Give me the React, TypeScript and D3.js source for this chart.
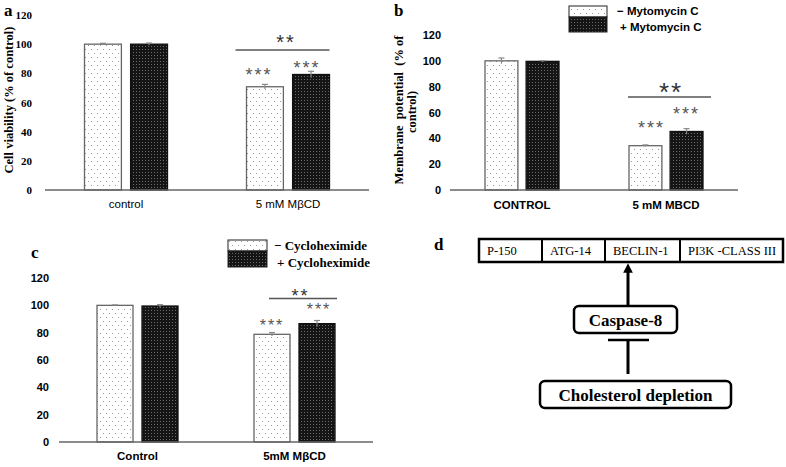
import { useEffect, useRef } from "react";
import * as d3 from "d3";

const yTicks = [0, 20, 40, 60, 80, 100, 120];
const seriesKeys = ["minus", "plus"];

// panel a
const groupsA = ["control", "5 mM MβCD"];
const minusA = [100, 70.8];
const plusA = [100, 79.2];
const minusErrA = [0.6, 1.6];
const plusErrA = [0.8, 2.2];

// panel b
const groupsB = ["CONTROL", "5 mM MBCD"];
const minusB = [100, 34.3];
const plusB = [99.6, 45.3];
const minusErrB = [2.2, 0.6];
const plusErrB = [0.5, 2.2];
const legendB = ["− Mytomycin C", "+ Mytomycin C"];

// panel c
const groupsC = ["Control", "5mM MβCD"];
const minusC = [100, 78.8];
const plusC = [99.5, 86.6];
const minusErrC = [0.3, 1.3];
const plusErrC = [1.0, 2.3];
const legendC = ["− Cycloheximide", "+ Cycloheximide"];

// panel d
const complexParts = ["P-150", "ATG-14", "BECLIN-1", "PI3K -CLASS III"];
const complexEdges = [479, 542, 605, 680, 785];

const SERIF = "'Liberation Serif', 'Times New Roman', serif";
const SANS = "'Liberation Sans', Arial, sans-serif";

type PanelOpts = {
  groups: string[];
  minus: number[];
  plus: number[];
  minusErr: number[];
  plusErr: number[];
  xRange: [number, number];
  yRange: [number, number];
  groupW: number;
  tickX: number;
  tickFont: string;
  catFont: string;
  catWeight: string;
  catY: number;
  sig: {
    x0: number; x1: number; lineV: number; big: number; bigDy: number; bigSize: number;
    stars: [number, number][]; starSize: number;
  };
};

function drawPanel(svg: d3.Selection<SVGSVGElement, unknown, null, undefined>, o: PanelOpts) {
  const g = svg.append("g");
  const x0 = d3.scalePoint().domain(o.groups).range(o.xRange).padding(0.5);
  const x1 = d3
    .scaleBand()
    .domain(seriesKeys)
    .range([-o.groupW / 2, o.groupW / 2])
    .paddingInner(0.2);
  const y = d3.scaleLinear().domain([0, 120]).range(o.yRange);

  // tick labels (no axis line)
  g.selectAll(".ytick")
    .data(yTicks)
    .join("text")
    .attr("x", o.tickX)
    .attr("y", (d) => y(d) + 4)
    .attr("text-anchor", "end")
    .style("font-family", o.tickFont)
    .style("font-weight", "bold")
    .style("font-size", "11px")
    .text((d) => d);

  const rows = o.groups.flatMap((grp, i) => [
    { grp, key: "minus", v: o.minus[i], e: o.minusErr[i] },
    { grp, key: "plus", v: o.plus[i], e: o.plusErr[i] },
  ]);

  const bx = (d: any) => (x0(d.grp) || 0) + (x1(d.key) || 0);

  g.selectAll(".bar")
    .data(rows)
    .join("rect")
    .attr("x", bx)
    .attr("y", (d) => y(d.v))
    .attr("width", x1.bandwidth())
    .attr("height", (d) => y(0) - y(d.v))
    .attr("fill", (d) => (d.key === "minus" ? "url(#dots)" : "url(#checks)"))
    .attr("stroke", (d) => (d.key === "minus" ? "#666" : "#111"))
    .attr("stroke-width", 1.3);

  // error bars
  const eb = g.selectAll(".err").data(rows).join("g").attr("stroke", "#888").attr("stroke-width", 1.2);
  eb.append("line")
    .attr("x1", (d) => bx(d) + x1.bandwidth() / 2)
    .attr("x2", (d) => bx(d) + x1.bandwidth() / 2)
    .attr("y1", (d) => y(d.v + d.e))
    .attr("y2", (d) => y(d.v - d.e));
  eb.append("line")
    .attr("x1", (d) => bx(d) + x1.bandwidth() / 2 - 3)
    .attr("x2", (d) => bx(d) + x1.bandwidth() / 2 + 3)
    .attr("y1", (d) => y(d.v + d.e))
    .attr("y2", (d) => y(d.v + d.e));

  // baseline
  g.append("line")
    .attr("x1", o.xRange[0])
    .attr("x2", o.xRange[1])
    .attr("y1", y(0))
    .attr("y2", y(0))
    .attr("stroke", "#666")
    .attr("stroke-width", 1.5);

  // category labels
  g.selectAll(".cat")
    .data(o.groups)
    .join("text")
    .attr("x", (d) => x0(d) || 0)
    .attr("y", o.catY)
    .attr("text-anchor", "middle")
    .style("font-family", o.catFont)
    .style("font-weight", o.catWeight)
    .style("font-size", "11.5px")
    .text((d) => d);

  // significance
  const last = o.groups[o.groups.length - 1];
  const minusX = (x0(last) || 0) + (x1("minus") || 0);
  const plusX = (x0(last) || 0) + (x1("plus") || 0) + x1.bandwidth();
  g.append("line")
    .attr("x1", minusX + o.sig.x0)
    .attr("x2", plusX + o.sig.x1)
    .attr("y1", y(o.sig.lineV))
    .attr("y2", y(o.sig.lineV))
    .attr("stroke", "#555")
    .attr("stroke-width", 1.5);
  g.append("text")
    .attr("x", (minusX + plusX) / 2 + o.sig.big)
    .attr("y", y(o.sig.lineV) + o.sig.bigDy)
    .attr("text-anchor", "middle")
    .style("font-family", SANS)
    .style("font-size", `${o.sig.bigSize}px`)
    .attr("fill", "#333")
    .attr("letter-spacing", 2)
    .text("**");
  const lastRows = rows.slice(-2);
  g.selectAll(".star")
    .data(lastRows)
    .join("text")
    .attr("x", (d, i) => bx(d) + x1.bandwidth() / 2 + o.sig.stars[i][0])
    .attr("y", (d, i) => y(d.v) - o.sig.stars[i][1])
    .attr("text-anchor", "middle")
    .style("font-family", SANS)
    .style("font-size", `${o.sig.starSize}px`)
    .attr("fill", "#555")
    .attr("letter-spacing", 2)
    .text("***");
}

export default function App() {
  const ref = useRef<SVGSVGElement>(null);

  useEffect(() => {
    if (!ref.current) return;
    const svg = d3.select(ref.current);
    svg.selectAll("*").remove();

    const defs = svg.append("defs");
    const dots = defs.append("pattern").attr("id", "dots").attr("width", 6).attr("height", 8).attr("patternUnits", "userSpaceOnUse");
    dots.append("rect").attr("width", 6).attr("height", 8).attr("fill", "#fff");
    dots.append("rect").attr("x", 1).attr("y", 1).attr("width", 1).attr("height", 1).attr("fill", "#999");
    dots.append("rect").attr("x", 4).attr("y", 5).attr("width", 1).attr("height", 1).attr("fill", "#999");
    const checks = defs.append("pattern").attr("id", "checks").attr("width", 3).attr("height", 3).attr("patternUnits", "userSpaceOnUse");
    checks.append("rect").attr("width", 3).attr("height", 3).attr("fill", "#151515");
    checks.append("rect").attr("x", 1).attr("y", 1).attr("width", 1).attr("height", 1).attr("fill", "#6a6a6a");

    const panelLetter = (t: string, x: number, yy: number) =>
      svg.append("text").attr("x", x).attr("y", yy)
        .style("font-family", SERIF).style("font-weight", "bold").style("font-size", "17px").text(t);

    // ---- panel a
    panelLetter("a", 4, 16);
    drawPanel(svg, {
      groups: groupsA, minus: minusA, plus: plusA, minusErr: minusErrA, plusErr: plusErrA,
      xRange: [45, 369], yRange: [190, 15], groupW: 83, tickX: 32, tickFont: SERIF,
      catFont: SANS, catWeight: "normal", catY: 208,
      sig: { x0: -11, x1: 0, lineV: 96, big: -2, bigDy: -1, bigSize: 20, stars: [[-6, 6], [-4, 1]], starSize: 18 },
    });
    svg.append("text")
      .attr("transform", "translate(13,100) rotate(-90)")
      .attr("text-anchor", "middle")
      .style("font-family", SERIF).style("font-weight", "bold").style("font-size", "12.5px")
      .text("Cell viability  (% of control)");

    // ---- panel b
    panelLetter("b", 394, 16);
    drawPanel(svg, {
      groups: groupsB, minus: minusB, plus: plusB, minusErr: minusErrB, plusErr: plusErrB,
      xRange: [450, 738], yRange: [190, 35], groupW: 74, tickX: 441, tickFont: SANS,
      catFont: SANS, catWeight: "bold", catY: 209,
      sig: { x0: -1, x1: 8, lineV: 72, big: 5, bigDy: 4, bigSize: 26, stars: [[6, 12], [0, 11]], starSize: 18 },
    });
    svg.append("text")
      .attr("transform", "translate(403,110) rotate(-90)")
      .attr("text-anchor", "middle")
      .style("font-family", SERIF).style("font-weight", "bold").style("font-size", "12.5px")
      .attr("xml:space", "preserve")
      .text("Membrane  potential  (% of");
    svg.append("text")
      .attr("transform", "translate(416,112) rotate(-90)")
      .attr("text-anchor", "middle")
      .style("font-family", SERIF).style("font-weight", "bold").style("font-size", "12.5px")
      .text("control)");
    const legB = svg.append("g");
    legendB.forEach((t, i) => {
      legB.append("rect").attr("x", 569).attr("y", 6 + i * 11).attr("width", 38).attr("height", i === 0 ? 11 : 15)
        .attr("fill", i === 0 ? "url(#dots)" : "url(#checks)").attr("stroke", "#222").attr("stroke-width", 1);
      legB.append("text").attr("x", i === 0 ? 617 : 620).attr("y", 15 + i * 16)
        .style("font-family", SANS).style("font-weight", "bold").style("font-size", "11.5px").text(t);
    });

    // ---- panel c
    panelLetter("c", 31, 258);
    drawPanel(svg, {
      groups: groupsC, minus: minusC, plus: plusC, minusErr: minusErrC, plusErr: plusErrC,
      xRange: [59, 373], yRange: [442, 278], groupW: 81, tickX: 49, tickFont: SANS,
      catFont: SANS, catWeight: "bold", catY: 460,
      sig: { x0: 15, x1: 2, lineV: 105, big: 6, bigDy: 3, bigSize: 18, stars: [[0, 3], [2, 9]], starSize: 16 },
    });
    const legC = svg.append("g");
    legendC.forEach((t, i) => {
      legC.append("rect").attr("x", 228).attr("y", 240 + i * 11).attr("width", 39).attr("height", i === 0 ? 11 : 16)
        .attr("fill", i === 0 ? "url(#dots)" : "url(#checks)").attr("stroke", "#222").attr("stroke-width", 1);
      legC.append("text").attr("x", i === 0 ? 274 : 277).attr("y", 250 + i * 17)
        .style("font-family", SERIF).style("font-weight", "bold").style("font-size", "13px").text(t);
    });

    // ---- panel d
    panelLetter("d", 434, 250);
    const d = svg.append("g");
    d.append("rect").attr("x", complexEdges[0]).attr("y", 239)
      .attr("width", complexEdges[4] - complexEdges[0] - 2).attr("height", 23)
      .attr("fill", "#fff").attr("stroke", "#000").attr("stroke-width", 2.5);
    complexEdges.slice(1, -1).forEach((e) =>
      d.append("line").attr("x1", e).attr("x2", e).attr("y1", 239).attr("y2", 262).attr("stroke", "#000").attr("stroke-width", 2));
    complexParts.forEach((t, i) =>
      d.append("text").attr("x", complexEdges[i] + 8).attr("y", 255)
        .style("font-family", SERIF).style("font-size", "12.5px").text(t));

    // arrow up to BECLIN-1
    d.append("defs").append("marker").attr("id", "arr").attr("viewBox", "0 0 10 10")
      .attr("refX", 5).attr("refY", 5).attr("markerWidth", 3.2).attr("markerHeight", 3.2).attr("orient", "auto")
      .append("path").attr("d", "M0,0 L10,5 L0,10 z").attr("fill", "#000");
    d.append("line").attr("x1", 628).attr("x2", 628).attr("y1", 306).attr("y2", 268)
      .attr("stroke", "#000").attr("stroke-width", 3).attr("marker-end", "url(#arr)");

    d.append("rect").attr("x", 574).attr("y", 306).attr("width", 103).attr("height", 27).attr("rx", 5)
      .attr("fill", "#fff").attr("stroke", "#000").attr("stroke-width", 2.5);
    d.append("text").attr("x", 625.5).attr("y", 326).attr("text-anchor", "middle")
      .style("font-family", SERIF).style("font-weight", "bold").style("font-size", "17px").text("Caspase-8");

    d.append("line").attr("x1", 608).attr("x2", 649).attr("y1", 340).attr("y2", 340).attr("stroke", "#000").attr("stroke-width", 2.5);
    d.append("line").attr("x1", 628).attr("x2", 628).attr("y1", 340).attr("y2", 374).attr("stroke", "#000").attr("stroke-width", 3);

    d.append("rect").attr("x", 540).attr("y", 381).attr("width", 191).attr("height", 27).attr("rx", 5)
      .attr("fill", "#fff").attr("stroke", "#000").attr("stroke-width", 2.5);
    d.append("text").attr("x", 635.5).attr("y", 401).attr("text-anchor", "middle")
      .style("font-family", SERIF).style("font-weight", "bold").style("font-size", "17px").text("Cholesterol depletion");
  }, []);

  return (
    <div style={{ position: "absolute", left: 0, top: 0 }}>
      <svg ref={ref} width={786} height={467} style={{ display: "block", background: "#fff" }}></svg>
    </div>
  );
}
